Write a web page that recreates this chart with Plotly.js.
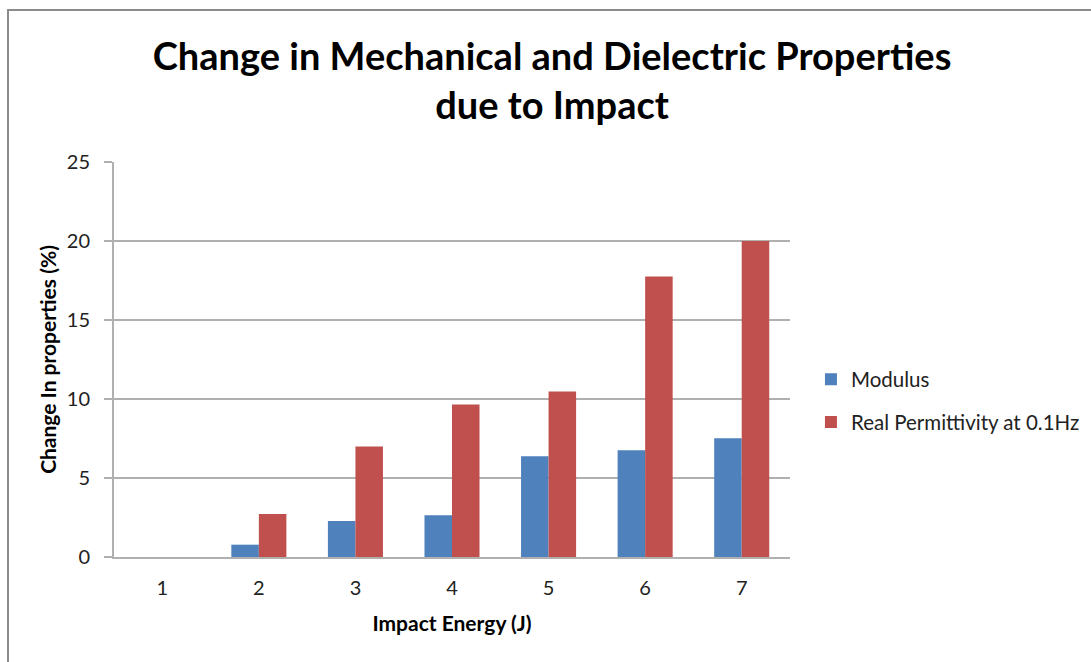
<!DOCTYPE html>
<html>
<head>
<meta charset="utf-8">
<script src="https://cdn.plot.ly/plotly-3.0.1.min.js"></script>
<style>
html,body{margin:0;padding:0;background:#fff;}
#wrap{position:relative;width:1091px;height:662px;overflow:hidden;}
#chart{width:1091px;height:662px;}
#frame{position:absolute;left:7px;top:9px;width:1200px;height:800px;border-left:2px solid #8c8c8c;border-top:2px solid #8c8c8c;pointer-events:none;}
</style>
</head>
<body>
<div id="wrap"><div id="chart"></div><div id="frame"></div></div>
<script>
const categories = ['1','2','3','4','5','6','7'];
const modulus = [0, 0.78, 2.28, 2.64, 6.37, 6.75, 7.51];
const permittivity = [0, 2.72, 6.99, 9.65, 10.47, 17.75, 20.0];
const seriesNames = ['Modulus', 'Real Permittivity at 0.1Hz'];
const yTicks = [0, 5, 10, 15, 20, 25];

const FONT = 'Lato, "Open Sans", sans-serif';

const data = [
  {type:'bar', x:categories, y:modulus, name:seriesNames[0], marker:{color:'#4F81BD'}, legendgroup:'a'},
  {type:'bar', x:categories, y:permittivity, name:seriesNames[1], marker:{color:'#C0504D'}, legendgroup:'b'}
];

const layout = {
  width:1091, height:662,
  margin:{l:114, r:301, t:162, b:105, autoexpand:false},
  paper_bgcolor:'#fff', plot_bgcolor:'#fff',
  font:{family:FONT, color:'#000'},
  barmode:'group', bargap:0.43, bargroupgap:0,
  title:{text:'<b>Change in Mechanical and Dielectric Properties<br>due to Impact</b>', font:{size:38, family:FONT, color:'#000'}, x:0.506, xanchor:'center', y:0.895, yanchor:'top'},
  xaxis:{type:'category', showgrid:false, ticks:'', showline:true, linecolor:'#b0b0b0', linewidth:2,
    tickfont:{size:20, color:'#222'}, ticklabelstandoff:12,
    title:{text:'<b>Impact Energy (J)</b>', font:{size:21}, standoff:18}},
  yaxis:{range:[0,25], tickvals:yTicks, showgrid:true, gridcolor:'#b0b0b0', gridwidth:2,
    showline:true, linecolor:'#b0b0b0', linewidth:2, ticks:'outside', ticklen:8, tickcolor:'#b0b0b0', tickwidth:2,
    tickfont:{size:20, color:'#222'}, ticklabelstandoff:10, zeroline:false,
    title:{text:'<b>Change In properties (%)</b>', font:{size:21}, standoff:4}},
  legend:{x:1.031, xanchor:'left', y:0.395, yanchor:'middle', traceorder:'grouped', tracegroupgap:13,
    font:{size:20.5, color:'#222'}, bgcolor:'rgba(0,0,0,0)'},
  showlegend:true
};

Plotly.newPlot('chart', data, layout, {displayModeBar:false, staticPlot:true});
</script>
</body>
</html>
